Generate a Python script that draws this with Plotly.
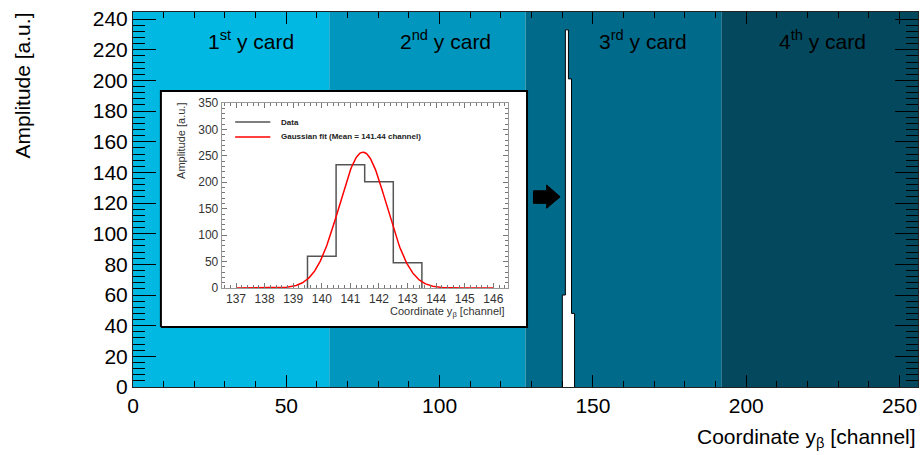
import numpy as np
import plotly.graph_objects as go

# Beam-position histogram: amplitude per y channel
channels = [140, 141, 142, 143]
counts = [60, 233, 201, 48]

# Readout cards along y (channel boundaries, labels, fills)
card_edges = [0, 64, 128, 192, 256]
card_labels = ["1<sup>st</sup> y card", "2<sup>nd</sup> y card",
               "3<sup>rd</sup> y card", "4<sup>th</sup> y card"]
card_label_x = [38.5, 101.8, 166.3, 225.0]
card_colors = ["#00b8e1", "#0096be", "#006a8a", "#03485c"]

# Gaussian fit parameters
fit_amplitude = 257.0
fit_mean = 141.44
fit_sigma = 0.83

# Axis ranges
main_x_range = [0, 256]
main_y_range = [0, 244.65]
inset_x_range = [136.5, 146.5]
inset_y_range = [0, 350]
fit_x_span = [137, 146]

FONT = "Liberation Sans, Arial, Helvetica, sans-serif"


def step_outline(left_edges, values, width=1.0):
    """Closed histogram outline (for line_shape='hv')."""
    xs = [left_edges[0]] + list(left_edges) + [left_edges[-1] + width] * 2
    ys = [0] + list(values) + [values[-1], 0]
    return xs, ys


fig = go.Figure()

# main histogram (bins [c, c+1))
hx, hy = step_outline(channels, counts)
fig.add_trace(go.Scatter(
    x=hx, y=hy, mode="lines", line=dict(color="black", width=1, shape="hv"),
    fill="toself", fillcolor="white", showlegend=False, hoverinfo="skip"))

# white panel holding the zoomed view
inset_box_x = [9.1, 128.5]
inset_box_y = [39.1, 193.1]
fig.add_trace(go.Scatter(
    x=[inset_box_x[0], inset_box_x[1], inset_box_x[1], inset_box_x[0], inset_box_x[0]],
    y=[inset_box_y[0], inset_box_y[0], inset_box_y[1], inset_box_y[1], inset_box_y[0]],
    mode="lines", line=dict(color="black", width=2), fill="toself",
    fillcolor="white", showlegend=False, hoverinfo="skip"))

# zoomed histogram (bins centred on channels)
ix, iy = step_outline([c - 0.5 for c in channels], counts)
fig.add_trace(go.Scatter(
    x=ix, y=iy, mode="lines", line=dict(color="#555555", width=1.5, shape="hv"),
    xaxis="x2", yaxis="y2", showlegend=False, hoverinfo="skip"))

# Gaussian fit curve
gx = np.linspace(fit_x_span[0], fit_x_span[1], 400)
gy = fit_amplitude * np.exp(-0.5 * ((gx - fit_mean) / fit_sigma) ** 2)
fig.add_trace(go.Scatter(
    x=gx, y=gy, mode="lines", line=dict(color="#ff0000", width=1.5),
    xaxis="x2", yaxis="y2", showlegend=False, hoverinfo="skip"))

shapes = []
for i, col in enumerate(card_colors):
    shapes.append(dict(type="rect", xref="x", yref="y",
                       x0=card_edges[i], x1=card_edges[i + 1],
                       y0=main_y_range[0], y1=main_y_range[1],
                       fillcolor=col, line=dict(width=0), layer="below"))

# arrow pointing at the peak
shapes.append(dict(
    type="path", xref="x", yref="y", layer="above",
    path="M 130.6,128.0 L 134.9,128.0 L 134.9,131.8 L 139.3,124.1 "
         "L 134.9,116.6 L 134.9,119.8 L 130.6,119.8 Z",
    fillcolor="black", line=dict(color="black", width=1)))

# legend samples inside the zoomed view
legend_entries = [("Data", "#555555", 314),
                  (f"Gaussian fit (Mean = {fit_mean:.2f} channel)", "#ff0000", 285.7)]
annotations = []
for text, col, yv in legend_entries:
    shapes.append(dict(type="line", xref="x2", yref="y2", x0=136.97, x1=138.2,
                       y0=yv, y1=yv, line=dict(color=col, width=1.5), layer="above"))
    annotations.append(dict(text=f"<b>{text}</b>", xref="x2", yref="y2", x=138.51, y=yv,
                            xanchor="left", yanchor="middle", showarrow=False,
                            font=dict(family=FONT, size=8, color="#222222")))

for lab, xv in zip(card_labels, card_label_x):
    annotations.append(dict(text=lab, xref="x", yref="paper", x=xv, y=0.925,
                            xanchor="center", yanchor="middle", showarrow=False,
                            font=dict(family=FONT, size=21, color="black")))

# axis titles
annotations.append(dict(text="Amplitude [a.u.]", xref="paper", yref="paper",
                        x=-0.141, y=1.005, xanchor="center", yanchor="top",
                        textangle=-90, showarrow=False,
                        font=dict(family=FONT, size=21, color="black")))
annotations.append(dict(text="Coordinate y<sub>β</sub> [channel]", xref="paper",
                        yref="paper", x=1.0, y=-0.096, xanchor="right", yanchor="top",
                        showarrow=False, font=dict(family=FONT, size=21, color="black")))
annotations.append(dict(text="Amplitude [a.u.]", xref="paper", yref="paper",
                        x=0.0611, y=0.7627, xanchor="center", yanchor="top",
                        textangle=-90, showarrow=False,
                        font=dict(family=FONT, size=11, color="#333333")))
annotations.append(dict(text="Coordinate y<sub>β</sub> [channel]", xref="paper",
                        yref="paper", x=0.4764, y=0.2, xanchor="right", yanchor="middle",
                        showarrow=False, font=dict(family=FONT, size=11, color="#333333")))

main_axis = dict(showgrid=False, zeroline=False, ticks="inside", tickcolor="black",
                 tickwidth=1, showline=True, linecolor="#222222", linewidth=1,
                 mirror="ticks", tickfont=dict(family=FONT, size=21, color="black"))
inset_axis = dict(showgrid=False, zeroline=False, ticks="inside", tickcolor="#777777",
                  tickwidth=1, showline=True, linecolor="#999999", linewidth=1,
                  mirror="ticks", tickfont=dict(family=FONT, size=12, color="#333333"))

fig.update_layout(
    width=920, height=455,
    margin=dict(l=133, r=2, t=12, b=68),
    paper_bgcolor="white", plot_bgcolor="white",
    showlegend=False,
    xaxis=dict(main_axis, range=main_x_range, tick0=0, dtick=50, ticklen=12,
               minor=dict(dtick=10, ticklen=6, ticks="inside", tickcolor="black")),
    yaxis=dict(main_axis, range=main_y_range, tick0=0, dtick=20, ticklen=23,
               minor=dict(dtick=4, ticklen=12, ticks="inside", tickcolor="black")),
    xaxis2=dict(inset_axis, domain=[0.113, 0.4773], anchor="y2", range=inset_x_range,
                tick0=137, dtick=1, ticklen=5,
                minor=dict(dtick=0.2, ticklen=3, ticks="inside", tickcolor="#777777")),
    yaxis2=dict(inset_axis, domain=[0.264, 0.7573], anchor="x2", range=inset_y_range,
                tick0=0, dtick=50, ticklen=5,
                minor=dict(dtick=10, ticklen=3, ticks="inside", tickcolor="#777777")),
    shapes=shapes,
    annotations=annotations,
)

fig.write_html("out.html")
